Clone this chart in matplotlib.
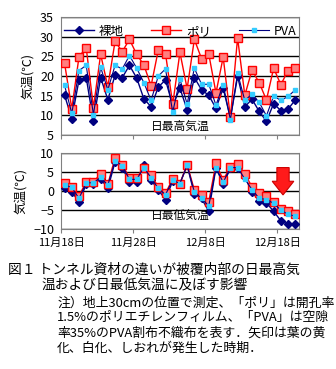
import matplotlib
matplotlib.use('Agg')
import matplotlib.pyplot as plt
import numpy as np

plt.rcParams['font.family'] = ['Noto Sans CJK JP', 'DejaVu Sans']

# daily values, Nov 18 - Dec 20
max_bare = [15.1, 9.2, 19.0, 19.6, 8.5, 19.6, 14.0, 20.2, 19.6, 22.7, 19.5,
            14.2, 12.2, 17.2, 19.0, 12.5, 16.9, 11.4, 19.6, 16.5, 15.1, 11.8,
            16.9, 9.3, 19.9, 12.2, 14.1, 11.0, 8.5, 13.0, 11.2, 11.6, 13.9]
max_poly = [23.2, 11.7, 24.9, 27.2, 12.0, 25.5, 17.3, 28.8, 26.2, 29.3, 25.5,
            22.8, 17.5, 26.6, 25.7, 12.8, 26.0, 16.8, 29.3, 24.4, 25.6, 15.7,
            24.8, 9.5, 29.7, 15.1, 21.5, 18.3, 13.9, 22.0, 17.8, 21.4, 22.0]
max_pva = [17.6, 10.5, 21.4, 22.7, 10.2, 22.2, 16.5, 22.7, 21.8, 25.2, 22.0,
           18.3, 13.8, 20.0, 21.8, 10.8, 19.2, 12.9, 22.0, 17.9, 17.9, 12.6,
           17.8, 8.9, 20.7, 13.8, 15.4, 13.3, 9.9, 14.9, 13.8, 14.8, 16.5]

min_bare = [0.7, -0.2, -2.8, 1.8, 1.8, 3.3, 0.7, 7.7, 6.1, 2.5, 2.5,
            7.0, 2.9, 0.3, -2.2, 2.7, 2.0, 6.8, -0.8, -1.9, -5.3, 6.2,
            1.8, 6.0, 6.2, 3.8, -0.2, -2.6, -3.1, -5.3, -7.8, -8.7, -8.7]
min_poly = [2.2, 1.1, -1.3, 2.5, 2.5, 4.5, 1.8, 8.8, 7.0, 3.5, 3.5,
            6.2, 4.2, 1.1, -0.6, 3.3, 2.0, 7.0, 0.3, -1.1, -2.8, 7.3,
            2.9, 6.4, 7.1, 4.6, 1.1, -0.6, -1.2, -2.8, -4.6, -5.3, -6.1]
min_pva = [1.6, 1.0, -1.9, 2.2, 2.2, 3.6, 1.6, 8.0, 6.7, 3.1, 3.1,
           6.2, 3.5, 0.7, -0.9, 2.9, 2.0, 6.8, -0.2, -1.9, -3.9, 6.2,
           2.3, 6.2, 6.2, 3.2, 0.4, -1.9, -2.2, -3.2, -5.0, -6.1, -6.6]

tick_labels = ['11月18日', '11月28日', '12月8日', '12月18日']
tick_pos = [0, 10, 20, 30]

x = np.arange(len(max_bare)) + 0.5

fig = plt.figure(figsize=(3.36, 3.69), dpi=100)
ax1 = fig.add_axes([0.1815, 0.634, 0.708, 0.320])
ax2 = fig.add_axes([0.1815, 0.379, 0.708, 0.206])

navy = '#000080'


def draw(ax, bare, poly, pva):
    ax.plot(x, bare, color=navy, lw=1, marker='D', ms=4, mfc=navy, mec=navy,
            label='裸地', zorder=3)
    ax.plot(x, poly, color='#ff0000', lw=1, marker='s', ms=5.5, mfc='#ff8080',
            mec='#ff0000', mew=1, label='ポリ', zorder=4)
    ax.plot(x, pva, color=navy, lw=0.8, marker='s', ms=3.2, mfc='#33ccff',
            mec='#33ccff', label='PVA', zorder=5)
    ax.set_xlim(0, len(bare))
    ax.set_xticks(tick_pos)
    for s in ax.spines.values():
        s.set_color('#808080')
    ax.tick_params(axis='x', direction='out', length=3, color='#808080')
    ax.tick_params(axis='y', length=0, labelsize=9, pad=5)
    ax.grid(axis='y', color='black', lw=1)
    ax.set_axisbelow(True)
    ax.set_ylabel('気温(℃)', fontsize=9, labelpad=4)


draw(ax1, max_bare, max_poly, max_pva)
ax1.set_ylim(5, 35)
ax1.set_yticks(range(5, 36, 5))
ax1.set_xticklabels([])
ax1.text(0.5, 0.02, '日最高気温', transform=ax1.transAxes, ha='center',
         va='bottom', fontsize=8.5, zorder=6)
leg = ax1.legend(ncol=3, loc='upper center', bbox_to_anchor=(0.5, 1.03),
                 frameon=False, fontsize=9, handlelength=2.4, columnspacing=2.2,
                 handletextpad=0.4)

draw(ax2, min_bare, min_poly, min_pva)
ax2.set_ylim(-10, 10)
ax2.set_yticks(range(-10, 11, 5))
ax2.set_xticklabels(tick_labels, fontsize=8)
ax2.text(0.5, 0.08, '日最低気温', transform=ax2.transAxes, ha='center',
         va='bottom', fontsize=8.5, zorder=6)
ax2.arrow(30.8, 6.2, 0, -7.2, width=1.7, head_width=3.0, head_length=3.6,
          length_includes_head=True, fc='#ff1a1a', ec='#cc0000', lw=0.8,
          zorder=7)

cap = [
    (0.025, 270, '図１ トンネル資材の違いが被覆内部の日最高気', 9.9),
    (0.125, 285, '温および日最低気温に及ぼす影響', 9.9),
    (0.17, 303, '注）地上30cmの位置で測定、「ポリ」は開孔率', 9.3),
    (0.17, 318, '1.5%のポリエチレンフィルム、「PVA」は空隙', 9.3),
    (0.17, 333, '率35%のPVA割布不織布を表す．矢印は葉の黄', 9.3),
    (0.17, 348, '化、白化、しおれが発生した時期．', 9.3),
]
for cx, cy, t, fs in cap:
    fig.text(cx, 1 - cy / 369, t, ha='left', va='center', fontsize=fs)

fig.savefig('out.png', dpi=100, facecolor='white')
